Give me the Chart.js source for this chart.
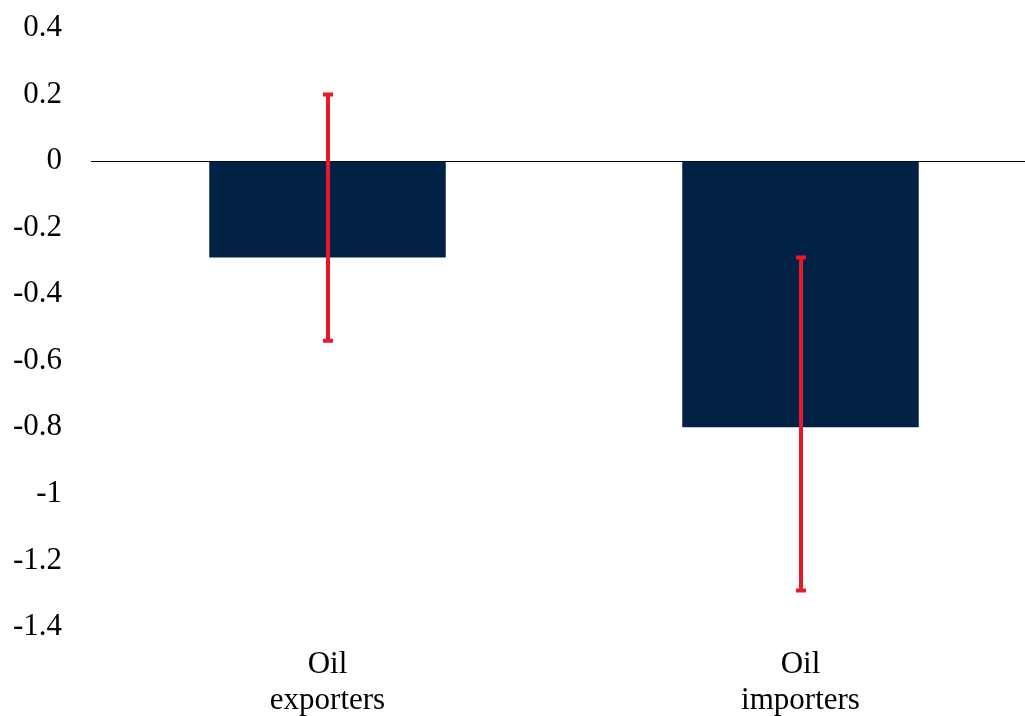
<!DOCTYPE html>
<html>
<head>
<meta charset="utf-8">
<script src="https://cdn.jsdelivr.net/npm/chart.js@4"></script>
<style>
  html, body { margin: 0; padding: 0; background: #fff; overflow: hidden; }
  #wrap { width: 1037px; height: 716px; }
</style>
</head>
<body>
<div id="wrap"><canvas id="chart"></canvas></div>
<script>
const categories = [['Oil', 'exporters'], ['Oil', 'importers']];
const values = [-0.29, -0.80];
const errLow = [-0.54, -1.29];
const errHigh = [0.20, -0.29];
const yTicks = [0.4, 0.2, 0, -0.2, -0.4, -0.6, -0.8, -1, -1.2, -1.4];

const FONT = "'Liberation Serif', 'Times New Roman', serif";

// red error bars drawn through the y scale
const errorBars = {
  id: 'errorBars',
  afterDatasetsDraw(chart) {
    const ctx = chart.ctx;
    const y = chart.scales.y;
    const meta = chart.getDatasetMeta(0);
    ctx.save();
    ctx.strokeStyle = '#e8192c';
    meta.data.forEach((bar, i) => {
      const x = Math.round(bar.x);
      const top = y.getPixelForValue(errHigh[i]);
      const bot = y.getPixelForValue(errLow[i]);
      ctx.lineWidth = 4;
      ctx.beginPath();
      ctx.moveTo(x, top);
      ctx.lineTo(x, bot);
      ctx.stroke();
      ctx.beginPath();
      ctx.moveTo(x - 5, top);
      ctx.lineTo(x + 5, top);
      ctx.moveTo(x - 5, bot);
      ctx.lineTo(x + 5, bot);
      ctx.stroke();
    });
    ctx.restore();
  }
};

new Chart(document.getElementById('chart').getContext('2d'), {
  type: 'bar',
  data: {
    labels: categories,
    datasets: [{
      data: values,
      backgroundColor: '#012244',
      categoryPercentage: 1,
      barPercentage: 0.5
    }]
  },
  options: {
    responsive: true,
    maintainAspectRatio: false,
    animation: false,
    layout: { padding: { top: 28, right: 0, bottom: 0, left: 0 } },
    plugins: { legend: { display: false }, tooltip: { enabled: false } },
    scales: {
      x: {
        grid: { display: false, drawTicks: false },
        border: { display: false },
        ticks: {
          color: '#000',
          padding: 20,
          maxRotation: 0,
          font: { family: FONT, size: 31, lineHeight: 1.15 }
        },
        afterFit(scale) { scale.height = 89; }
      },
      y: {
        min: -1.4,
        max: 0.4,
        afterBuildTicks(scale) { scale.ticks = yTicks.map(v => ({ value: v })); },
        grid: {
          drawTicks: false,
          color: ctx => (ctx.tick && ctx.tick.value === 0 ? '#000' : 'rgba(0,0,0,0)'),
          lineWidth: 1
        },
        border: { display: false },
        ticks: {
          color: '#000',
          padding: 29,
          font: { family: FONT, size: 31 },
          callback: v => String(Math.round(v * 10) / 10)
        },
        afterFit(scale) {
          scale.width = 91;
          scale.paddingTop = 0;
          scale.paddingBottom = 0;
        }
      }
    }
  },
  plugins: [errorBars]
});
</script>
</body>
</html>
